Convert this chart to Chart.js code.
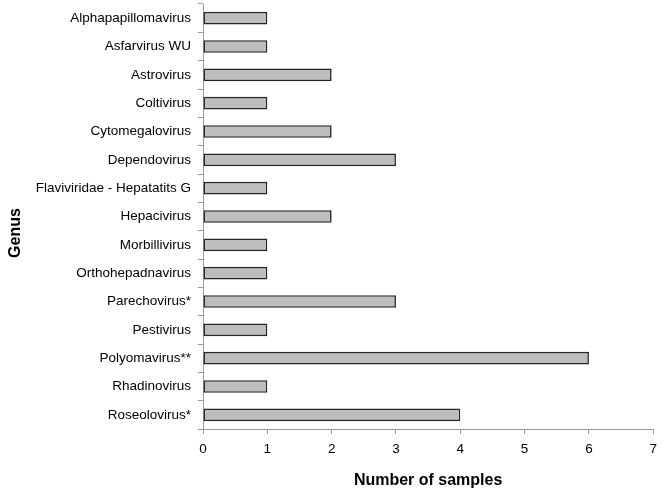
<!DOCTYPE html>
<html>
<head>
<meta charset="utf-8">
<script src="https://cdn.jsdelivr.net/npm/chart.js@4"></script>
<style>
  html, body { margin: 0; padding: 0; background: #fff; }
</style>
</head>
<body>
<canvas id="genus-canvas" width="664" height="490"></canvas>
<script>
const genera = ['Alphapapillomavirus', 'Asfarvirus WU', 'Astrovirus', 'Coltivirus', 'Cytomegalovirus',
  'Dependovirus', 'Flaviviridae - Hepatatits G', 'Hepacivirus', 'Morbillivirus', 'Orthohepadnavirus',
  'Parechovirus*', 'Pestivirus', 'Polyomavirus**', 'Rhadinovirus', 'Roseolovirus*']
const samples = [1, 1, 2, 1, 2, 3, 1, 2, 1, 1, 3, 1, 6, 1, 4]

const font = { family: 'Liberation Sans, Arial, sans-serif', size: 13.5 }
const titleFont = { family: 'Liberation Sans, Arial, sans-serif', size: 16, weight: 'bold' }

// the y title sits a bit below the middle of the axis in the original, so draw it ourselves
const genusTitle = {
  id: 'genusTitle',
  afterDraw(chart) {
    const ctx = chart.ctx
    ctx.save()
    ctx.translate(16, 233)
    ctx.rotate(-Math.PI / 2)
    ctx.font = 'bold 16px Liberation Sans, Arial, sans-serif'
    ctx.fillStyle = '#000'
    ctx.textAlign = 'center'
    ctx.textBaseline = 'middle'
    ctx.fillText('Genus', 0, 0)
    ctx.restore()
  }
}

new Chart(document.querySelector('#genus-canvas'), {
  type: 'bar',
  data: {
    labels: genera,
    datasets: [{
      data: samples,
      backgroundColor: '#bdbdbd',
      borderColor: '#262626',
      borderWidth: 1.6,
      borderSkipped: false,
      barPercentage: 0.62,
      categoryPercentage: 0.72
    }]
  },
  options: {
    indexAxis: 'y',
    responsive: false,
    animation: false,
    maintainAspectRatio: false,
    layout: { padding: { top: 4, right: 8, left: 0, bottom: 0 } },
    plugins: { legend: { display: false }, tooltip: { enabled: false } },
    scales: {
      x: {
        min: 0,
        max: 7,
        ticks: { stepSize: 1, color: '#000', font, padding: 7 },
        grid: { drawOnChartArea: false, color: '#999', tickLength: 5 },
        border: { color: '#999' },
        title: { display: true, text: 'Number of samples', color: '#000', font: titleFont, padding: { top: 4, bottom: 0 } },
        afterFit(axis) { axis.height = 61 }
      },
      y: {
        ticks: { color: '#000', font, padding: 7, autoSkip: false },
        grid: { drawOnChartArea: false, color: '#999', tickLength: 5 },
        border: { color: '#999' },
        afterFit(axis) {
          axis.width = 203
          axis.paddingTop = 0
          axis.paddingBottom = 0
        }
      }
    }
  },
  plugins: [genusTitle]
})
</script>
</body>
</html>
